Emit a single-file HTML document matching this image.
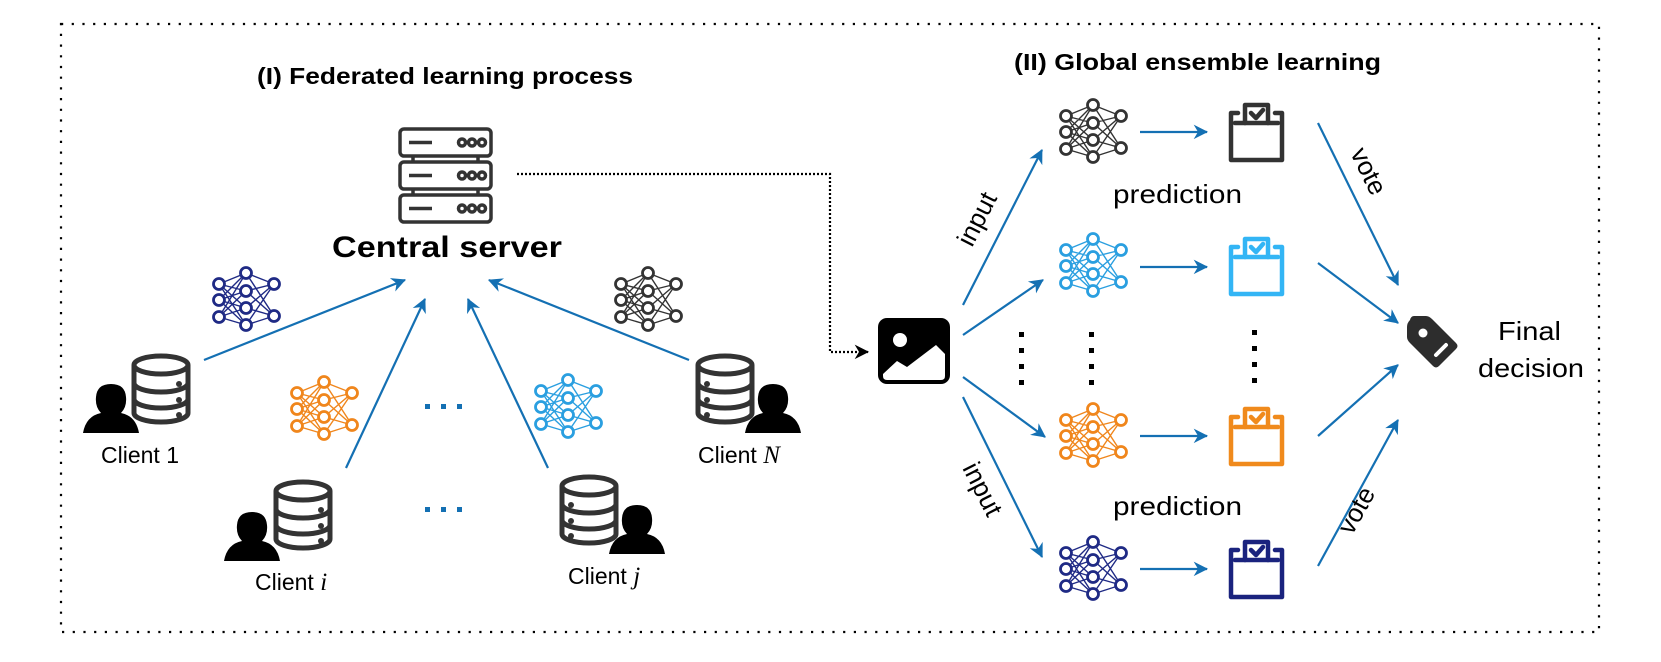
<!DOCTYPE html>
<html><head><meta charset="utf-8"><style>
html,body{margin:0;padding:0;background:#fff}
svg{display:block}
text{font-family:"Liberation Sans",Arial,sans-serif}
</style></head><body>
<svg width="1661" height="662" viewBox="0 0 1661 662" xmlns="http://www.w3.org/2000/svg">
<defs>
<marker id="ah" viewBox="0 0 10 10" refX="9" refY="5" markerWidth="6" markerHeight="6" markerUnits="userSpaceOnUse" orient="auto" style="overflow:visible">
<path d="M0,0 L10,5 L0,10 L3,5 Z" fill="#1470b3" transform="scale(2.4) translate(-5.5,-3)"/>
</marker>
<marker id="bh" viewBox="0 0 10 10" refX="9" refY="5" markerWidth="6" markerHeight="6" markerUnits="userSpaceOnUse" orient="auto" style="overflow:visible">
<path d="M0,0 L10,5 L0,10 L3,5 Z" fill="#000" transform="scale(2.4) translate(-5.5,-3)"/>
</marker>
<g id="nnl" stroke-width="1.4">
<path d="M6,16L33,5M6,16L33,23M6,16L33,40M6,16L33,57M6,32L33,5M6,32L33,23M6,32L33,40M6,32L33,57M6,49L33,5M6,49L33,23M6,49L33,40M6,49L33,57M33,5L61,16M33,23L61,16M33,40L61,16M33,57L61,16M33,5L61,48M33,23L61,48M33,40L61,48M33,57L61,48" fill="none"/>
<g fill="#fff" stroke-width="2.8">
<circle cx="6" cy="16" r="5.5"/><circle cx="6" cy="32" r="5.5"/><circle cx="6" cy="49" r="5.5"/>
<circle cx="33" cy="5" r="5.5"/><circle cx="33" cy="23" r="5.5"/><circle cx="33" cy="40" r="5.5"/><circle cx="33" cy="57" r="5.5"/>
<circle cx="61" cy="16" r="5.5"/><circle cx="61" cy="48" r="5.5"/>
</g></g>
<g id="db" fill="none" stroke="#333" stroke-width="5">
<ellipse cx="30" cy="11" rx="27" ry="9"/>
<path d="M3,11 V59 A27,9 0 0 0 57,59 V11"/>
<path d="M3,29 A27,9 0 0 0 57,29 M3,45 A27,9 0 0 0 57,45"/>
<g fill="#333" stroke="none"><circle cx="48" cy="30" r="3"/><circle cx="48" cy="46" r="3"/><circle cx="48" cy="61" r="3"/></g>
</g>
<path id="person" d="M0,50 Q3,33 18,30 Q12,24 13,14 Q14,1 28,1 Q42,1 43,14 Q44,24 38,30 Q53,33 56,50 Z" fill="#000"/>
<g id="srv" fill="none" stroke="#333" stroke-width="3.5">
<rect x="0" y="0" width="91" height="27" rx="4"/>
<path d="M9,13.5 H32"/>
<circle cx="62" cy="13.5" r="3.5"/><circle cx="72" cy="13.5" r="3.5"/><circle cx="82" cy="13.5" r="3.5"/>
</g>
<g id="ballot" fill="none" stroke-width="4.5" stroke-linejoin="round" stroke-linecap="round">
<path d="M11,10 H4 V57 H55 V10 H48"/>
<path d="M8,20 H51"/>
<path d="M18,20 V2 H41 V20"/>
<path d="M24,10 L29,15 L36,7"/>
</g>
</defs>

<rect x="61" y="24" width="1538" height="608" fill="none" stroke="#000" stroke-width="2.2" stroke-dasharray="2.2,8.5"/>

<text x="257" y="84" font-size="23" font-weight="bold" textLength="376" lengthAdjust="spacingAndGlyphs">(I) Federated learning process</text>
<text x="1014" y="70" font-size="23" font-weight="bold" textLength="367" lengthAdjust="spacingAndGlyphs">(II) Global ensemble learning</text>

<use href="#srv" x="400" y="129"/>
<use href="#srv" x="400" y="162"/>
<use href="#srv" x="400" y="195"/>
<path d="M413,156V162M478,156V162M413,189V195M478,189V195" stroke="#333" stroke-width="3.5"/>
<text x="332" y="257" font-size="30" font-weight="bold" textLength="230" lengthAdjust="spacingAndGlyphs">Central server</text>

<g stroke="#1470b3" stroke-width="2.2" fill="none" marker-end="url(#ah)">
<path d="M204,360 L405,280"/>
<path d="M346,468 L425,299"/>
<path d="M548,468 L468,299"/>
<path d="M689,360 L489,280"/>
</g>

<use href="#nnl" x="213" y="268" stroke="#1f2a85"/>
<use href="#nnl" x="291" y="377" stroke="#f0861c"/>
<use href="#nnl" x="535" y="375" stroke="#2a9fe0"/>
<use href="#nnl" x="615" y="268" stroke="#333"/>

<use href="#db" x="131" y="354"/>
<use href="#person" x="83" y="383"/>
<text x="101" y="463" font-size="23" textLength="78" lengthAdjust="spacingAndGlyphs">Client 1</text>

<use href="#db" x="273" y="480"/>
<use href="#person" x="224" y="511"/>
<text x="255" y="590" font-size="23">Client <tspan font-family="Liberation Serif" font-style="italic" font-size="25">i</tspan></text>

<g transform="translate(619,475) scale(-1,1)"><use href="#db"/></g>
<use href="#person" x="609" y="504"/>
<text x="568" y="584" font-size="23">Client <tspan font-family="Liberation Serif" font-style="italic" font-size="25">j</tspan></text>

<g transform="translate(755,354) scale(-1,1)"><use href="#db"/></g>
<use href="#person" x="745" y="383"/>
<text x="698" y="463" font-size="23">Client <tspan font-family="Liberation Serif" font-style="italic" font-size="25">N</tspan></text>

<g fill="#1470b3"><rect x="425" y="404" width="5" height="5"/><rect x="441" y="404" width="5" height="5"/><rect x="457" y="404" width="5" height="5"/>
<rect x="425" y="507" width="5" height="5"/><rect x="441" y="507" width="5" height="5"/><rect x="457" y="507" width="5" height="5"/></g>

<path d="M517,174 H830 V352 H868" fill="none" stroke="#000" stroke-width="2.2" stroke-dasharray="2,2" marker-end="url(#bh)"/>

<rect x="878" y="318" width="72" height="66" rx="9" fill="#000"/>
<circle cx="900" cy="340" r="7" fill="#fff"/>
<path d="M883,374 L897,361 L907,367 L936,345 L945,354 V376 Q945,380 941,380 H887 Q883,380 883,376 Z" fill="#fff"/>

<g stroke="#1470b3" stroke-width="2.2" fill="none" marker-end="url(#ah)">
<path d="M963,305 L1042,150"/>
<path d="M963,335 L1043,280"/>
<path d="M963,377 L1045,437"/>
<path d="M963,397 L1042,557"/>
<path d="M1140,132 H1207"/>
<path d="M1140,267 H1207"/>
<path d="M1140,436 H1207"/>
<path d="M1140,569 H1207"/>
<path d="M1318,123 L1398,285"/>
<path d="M1318,263 L1398,323"/>
<path d="M1318,436 L1398,365"/>
<path d="M1318,566 L1398,420"/>
</g>

<use href="#nnl" x="1060" y="100" stroke="#333"/>
<use href="#nnl" x="1060" y="234" stroke="#2a9fe0"/>
<use href="#nnl" x="1060" y="404" stroke="#f0861c"/>
<use href="#nnl" x="1060" y="537" stroke="#1f2a85"/>

<use href="#ballot" x="1227" y="103" stroke="#333"/>
<use href="#ballot" x="1227" y="237" stroke="#33b5f5"/>
<use href="#ballot" x="1227" y="407" stroke="#f08a1c"/>
<use href="#ballot" x="1227" y="540" stroke="#1a237e"/>

<g fill="#000">
<rect x="1019" y="332" width="5" height="5"/><rect x="1019" y="348" width="5" height="5"/><rect x="1019" y="364" width="5" height="5"/><rect x="1019" y="380" width="5" height="5"/>
<rect x="1089" y="332" width="5" height="5"/><rect x="1089" y="348" width="5" height="5"/><rect x="1089" y="364" width="5" height="5"/><rect x="1089" y="380" width="5" height="5"/>
<rect x="1252" y="330" width="5" height="5"/><rect x="1252" y="346" width="5" height="5"/><rect x="1252" y="362" width="5" height="5"/><rect x="1252" y="378" width="5" height="5"/>
</g>

<text x="1113" y="203" font-size="26" textLength="129" lengthAdjust="spacingAndGlyphs">prediction</text>
<text x="1113" y="515" font-size="26" textLength="129" lengthAdjust="spacingAndGlyphs">prediction</text>
<text font-size="26" transform="translate(972,248) rotate(-63)">input</text>
<text font-size="26" transform="translate(962,468) rotate(63)">input</text>
<text font-size="26" transform="translate(1350,153) rotate(63.7)">vote</text>
<text font-size="26" transform="translate(1352,536) rotate(-61)">vote</text>

<path d="M1410,320 Q1407,323 1407,327 L1407,337 Q1407,340 1410,343 L1433,366 Q1436,369 1439,366 L1456,349 Q1459,346 1456,343 L1432,319 Q1429,316 1426,316 L1414,316 Q1411,316 1410,320 Z" fill="#2d2d2d"/>
<circle cx="1423" cy="333" r="4.5" fill="#fff"/>
<path d="M1436,355 L1446,345" stroke="#fff" stroke-width="4" stroke-linecap="round"/>
<text x="1498" y="340" font-size="26" textLength="63" lengthAdjust="spacingAndGlyphs">Final</text>
<text x="1478" y="377" font-size="26" textLength="106" lengthAdjust="spacingAndGlyphs">decision</text>
</svg>
</body></html>
